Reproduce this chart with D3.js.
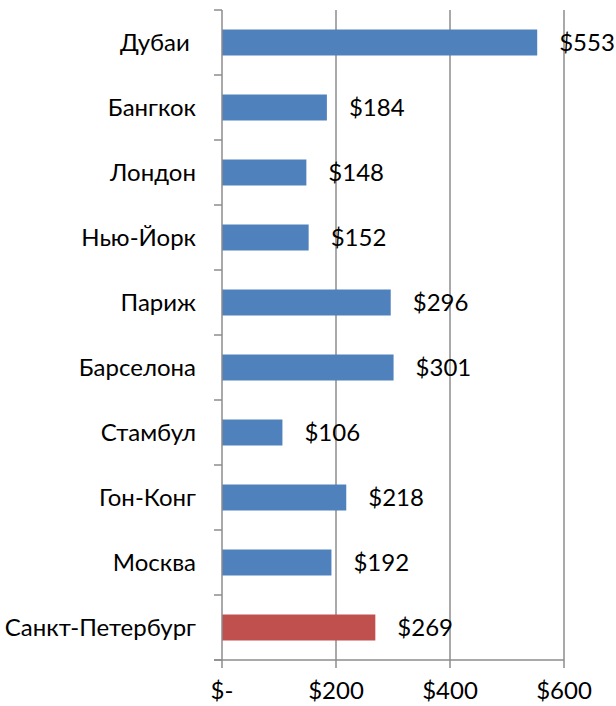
<!DOCTYPE html>
<html>
<head>
<meta charset="utf-8">
<script src="https://cdn.jsdelivr.net/npm/d3@7"></script>
<style>
  body { margin: 0; background: #fff; }
  text { font-family: Lato, "Open Sans", sans-serif; fill: #000; white-space: pre; }
</style>
</head>
<body>
<script>
const width = 616
const height = 706

// Города и цены
const cities = ['Дубаи ', 'Бангкок', 'Лондон', 'Нью-Йорк', 'Париж', 'Барселона', 'Стамбул', 'Гон-Конг', 'Москва', 'Санкт-Петербург']
const prices = [553, 184, 148, 152, 296, 301, 106, 218, 192, 269]
const highlight = 'Санкт-Петербург'
const xTicks = [0, 200, 400, 600]

const data = cities.map((c, i) => ({ city: c, price: prices[i] }))

const x = d3.scaleLinear().domain([0, 600]).range([222, 564])
const y = d3.scaleBand()
  .domain(cities)
  .range([10, 660])
  .paddingInner(0.6)
  .paddingOuter(0.3)

const fmt = v => v === 0 ? '$-' : '$' + v

const svg = d3.select('body').append('svg').attr('width', width).attr('height', height)

const gridColor = '#8c8c8c'
const fs = 24

// сетка
svg.selectAll('line.grid')
  .data(xTicks.slice(1))
  .join('line')
  .attr('class', 'grid')
  .attr('x1', d => x(d)).attr('x2', d => x(d))
  .attr('y1', y.range()[0]).attr('y2', y.range()[1])
  .attr('stroke', gridColor)
  .attr('stroke-width', 1.5)

// бары
svg.selectAll('rect.bar')
  .data(data)
  .join('rect')
  .attr('class', 'bar')
  .attr('x', x(0))
  .attr('y', d => y(d.city))
  .attr('width', d => x(d.price) - x(0))
  .attr('height', y.bandwidth())
  .attr('fill', d => d.city === highlight ? '#C0504D' : '#4F81BD')

// ось Y
const step = y.step()
const bounds = d3.range(cities.length + 1).map(i => y.range()[0] + i * step)
svg.append('line')
  .attr('x1', x(0)).attr('x2', x(0))
  .attr('y1', y.range()[0]).attr('y2', y.range()[1])
  .attr('stroke', gridColor).attr('stroke-width', 1.5)
svg.selectAll('line.ytick')
  .data(bounds)
  .join('line')
  .attr('class', 'ytick')
  .attr('x1', x(0) - 8).attr('x2', x(0))
  .attr('y1', d => d).attr('y2', d => d)
  .attr('stroke', gridColor).attr('stroke-width', 1.5)

// ось X
svg.append('line')
  .attr('x1', x(0) - 8).attr('x2', x(600))
  .attr('y1', y.range()[1]).attr('y2', y.range()[1])
  .attr('stroke', gridColor).attr('stroke-width', 1.5)
svg.selectAll('line.xtick')
  .data(xTicks)
  .join('line')
  .attr('class', 'xtick')
  .attr('x1', d => x(d)).attr('x2', d => x(d))
  .attr('y1', y.range()[1]).attr('y2', y.range()[1] + 8)
  .attr('stroke', gridColor).attr('stroke-width', 1.5)

svg.selectAll('text.xlabel')
  .data(xTicks)
  .join('text')
  .attr('class', 'xlabel')
  .attr('x', d => x(d))
  .attr('y', 699)
  .attr('text-anchor', 'middle')
  .attr('font-size', fs)
  .text(fmt)

// подписи категорий
svg.selectAll('text.cat')
  .data(data)
  .join('text')
  .attr('class', 'cat')
  .attr('x', 196)
  .attr('y', d => y(d.city) + y.bandwidth() / 2)
  .attr('dy', '0.35em')
  .attr('text-anchor', 'end')
  .attr('font-size', fs)
  .text(d => d.city)

// значения
svg.selectAll('text.val')
  .data(data)
  .join('text')
  .attr('class', 'val')
  .attr('x', d => x(d.price) + 22)
  .attr('y', d => y(d.city) + y.bandwidth() / 2)
  .attr('dy', '0.35em')
  .attr('font-size', fs)
  .text(d => fmt(d.price))
</script>
</body>
</html>
